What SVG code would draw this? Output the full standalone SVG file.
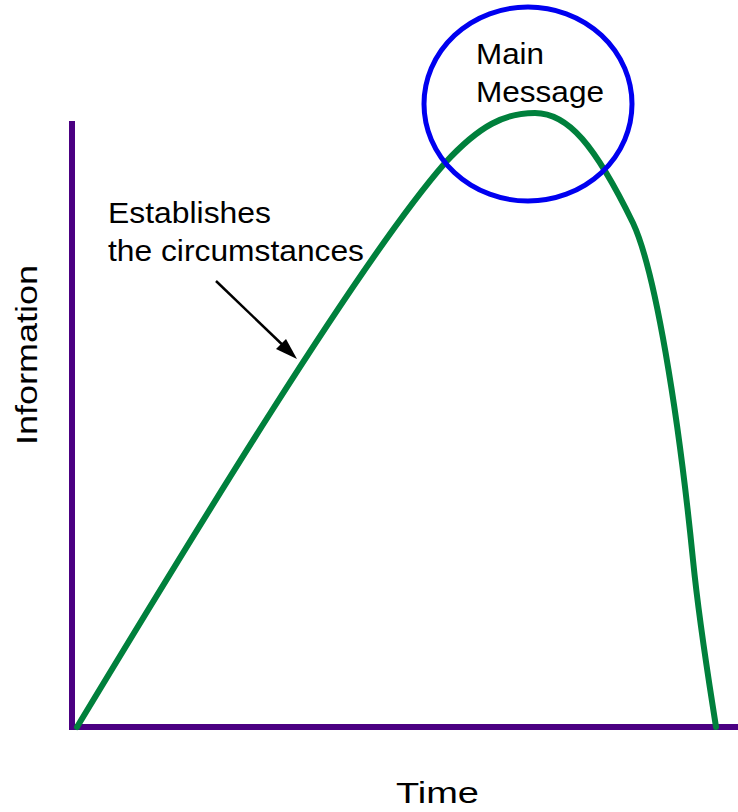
<svg xmlns="http://www.w3.org/2000/svg" width="738" height="812" viewBox="0 0 738 812">
<style>
text{font-family:"Liberation Sans",Arial,sans-serif;font-size:30px;fill:#000}
.axis{stroke:#4B0082;stroke-width:6;fill:none}
.curve{stroke:#00803C;stroke-width:6;fill:none;stroke-linecap:round}
.ring{stroke:#0000F0;stroke-width:5;fill:none}
</style>
<rect width="738" height="812" fill="#fff"/>
<g id="axes">
<line class="axis" x1="72" y1="121" x2="72" y2="730"/>
<line class="axis" x1="69" y1="727" x2="738" y2="727"/>
</g>
<g id="curve">
<path class="curve" d="M77,727 C190,540 360,260 445,163 C480,125 505,113 535,113 C568,113 595,145 633,223 C655,270 678,410 693,560 C700,630 712,700 716,727"/>
</g>
<g id="main-message">
<ellipse class="ring" cx="528" cy="104" rx="104" ry="97"/>
<text x="476" y="64" textLength="68" lengthAdjust="spacingAndGlyphs">Main</text>
<text x="476" y="102" textLength="128" lengthAdjust="spacingAndGlyphs">Message</text>
</g>
<g id="establishes">
<text x="108" y="223" textLength="163" lengthAdjust="spacingAndGlyphs">Establishes</text>
<text x="108" y="261" textLength="256" lengthAdjust="spacingAndGlyphs">the circumstances</text>
</g>
<g id="connectors">
<line x1="216" y1="281" x2="290" y2="352" stroke="#000" stroke-width="2.5"/>
<path d="M297,359 L276,349 L286,339 Z" fill="#000"/>
</g>
<g id="labels">
<text transform="translate(37,445) rotate(-90)" x="0" y="0" textLength="180" lengthAdjust="spacingAndGlyphs">Information</text>
<text x="396" y="803" textLength="83" lengthAdjust="spacingAndGlyphs">Time</text>
</g>
</svg>
